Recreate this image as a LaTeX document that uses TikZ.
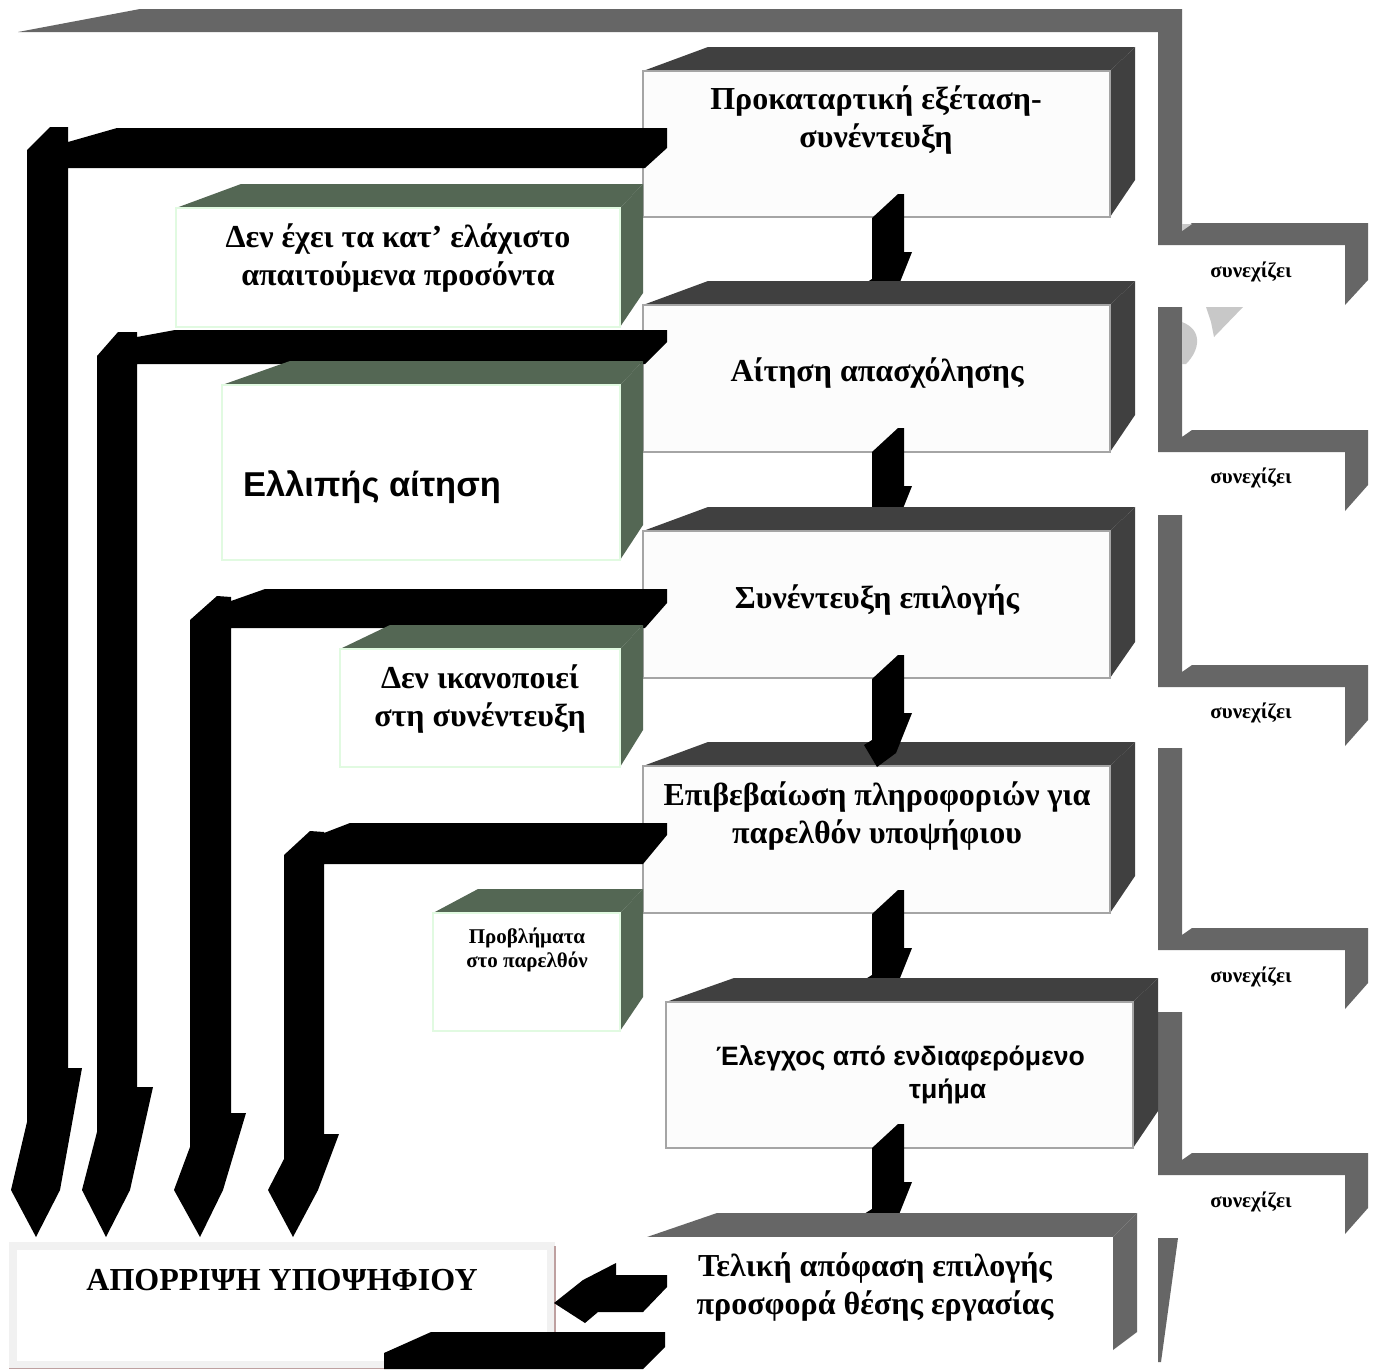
\documentclass[tikz,border=0pt]{standalone}
\usepackage{fontspec}
\setmainfont{Liberation Serif}
\newfontfamily\sansf{Liberation Sans}
\definecolor{dface}{RGB}{64,64,64}
\definecolor{gface}{RGB}{84,103,84}
\definecolor{band}{RGB}{102,102,102}
\definecolor{fborder}{RGB}{165,165,165}
\definecolor{ffill}{RGB}{252,252,252}
\definecolor{gborder}{RGB}{225,250,225}
\definecolor{wm}{RGB}{200,200,200}
\definecolor{rborder}{RGB}{190,160,160}
\definecolor{rframe}{RGB}{241,241,241}
\newcommand\tdbox[9]{%
  \fill[#8] (#1,#2) -- (#1+#5,#2-24) -- (#3+#6,#2-24) -- (#3,#2) -- cycle;
  \fill[#8] (#3,#2) -- (#3+#6,#2-24) -- (#3+#6,#4-#7) -- (#3,#4) -- cycle;
  \path[#9] (#1,#2) rectangle (#3,#4);
}
\newcommand\downarrowthree[1]{%
  \fill[black] (872,#1+24) -- (898,#1) -- (904,#1) -- (904,#1+58) -- (912,#1+58)
    -- (896,#1+98) -- (877,#1+112) -- (864,#1+90) -- (872,#1+85) -- cycle;
}
\newcommand\grayL[2]{%
  \fill[band] (1158,#1) -- (1182,#1) -- (1182,#2+7) -- (1192,#2) -- (1368,#2)
    -- (1368,#2+55) -- (1345,#2+81) -- (1345,#2+22) -- (1158,#2+22) -- cycle;
}
\begin{document}
\begin{tikzpicture}[x=1pt,y=-1pt,
  mfront/.style={fill=ffill,draw=fborder,line width=1.5pt},
  gfront/.style={fill=white,draw=gborder,line width=1.5pt},
  wfront/.style={fill=white},
  mtext/.style={font=\bfseries\fontsize{32}{38}\selectfont,align=center,inner sep=0pt},
  stext/.style={font=\sansf\bfseries\fontsize{26.6}{33}\selectfont,align=left,inner sep=0pt},
  ctext/.style={font=\bfseries\fontsize{21}{24}\selectfont,inner sep=0pt},
  ptext/.style={font=\bfseries\fontsize{21}{24}\selectfont,align=center,inner sep=0pt}]
\useasboundingbox (0,0) rectangle (1378,1369);
\fill[white] (0,0) rectangle (1378,1369);

% right-hand grey "continues" bands
\fill[band] (18,32) -- (140,9) -- (1182,9) -- (1182,230) -- (1192,223) -- (1368,223)
  -- (1368,280) -- (1345,305) -- (1345,245) -- (1158,245) -- (1158,32) -- cycle;
\fill[wm] (1182,231) -- (1192,224) -- (1182,224) -- cycle;
\grayL{307}{430}
\grayL{515}{665}
\grayL{748}{928}
\grayL{1012}{1153}
\fill[band] (1158,1238) -- (1178,1238) -- (1161,1362) -- (1158,1362) -- cycle;
\fill[wm] (1206,307) -- (1243,307) -- (1214,337) -- (1211,322) -- cycle;
\fill[wm] (1182,322) .. controls (1203,330) and (1200,350) .. (1186,364) -- (1182,364) -- cycle;

% main process boxes with the arrows between them
\tdbox{643}{71}{1110}{217}{65}{25}{37}{dface}{mfront}
\downarrowthree{194}
\tdbox{643}{305}{1110}{452}{65}{25}{37}{dface}{mfront}
\downarrowthree{428}
\tdbox{643}{531}{1110}{678}{65}{25}{36}{dface}{mfront}
\tdbox{643}{766}{1110}{913}{65}{25}{37}{dface}{mfront}
\downarrowthree{655}
\downarrowthree{890}
\tdbox{666}{1002}{1133}{1148}{68}{25}{37}{dface}{mfront}
\downarrowthree{1124}
\tdbox{647}{1237}{1113}{1350}{70}{24}{18}{band}{wfront}

% rejection paths and reason boxes
\fill[black] (27,150) -- (50,127) -- (68,127) -- (68,142) -- (117,128) -- (667,128)
  -- (667,148) -- (645,168) -- (68,168) -- (68,1068) -- (82,1068) -- (60,1190)
  -- (36,1237) -- (11,1190) -- (27,1122) -- cycle;
\tdbox{176}{208}{620}{327}{65}{23}{34}{gface}{gfront}
\fill[black] (97,356) -- (118,332) -- (137,332) -- (137,337) -- (175,330) -- (667,330)
  -- (667,342) -- (645,364) -- (137,364) -- (137,1087) -- (153,1087) -- (130,1190)
  -- (106,1237) -- (82,1190) -- (97,1132) -- cycle;
\tdbox{222}{385}{620}{560}{68}{23}{35}{gface}{gfront}
\fill[black] (190,620) -- (217,596) -- (231,597) -- (231,601) -- (265,589) -- (667,589)
  -- (667,603) -- (645,628) -- (231,628) -- (231,1113) -- (246,1113) -- (223,1190)
  -- (200,1237) -- (174,1190) -- (190,1147) -- cycle;
\tdbox{340}{649}{620}{767}{50}{23}{37}{gface}{gfront}
\fill[black] (284,855) -- (310,831) -- (324,832) -- (324,833) -- (350,823) -- (667,823)
  -- (667,835) -- (643,864) -- (324,864) -- (324,1134) -- (339,1134) -- (318,1190)
  -- (293,1237) -- (268,1190) -- (284,1159) -- cycle;
\tdbox{433}{913}{620}{1031}{45}{23}{34}{gface}{gfront}

% rejection box
\fill[rframe] (9,1242) rectangle (555,1369);
\fill[white] (17,1250) rectangle (547,1361);
\draw[rborder,line width=1.5pt] (555,1246) -- (555,1369);
\draw[rborder,line width=1pt] (9,1368.5) -- (555,1368.5);
\fill[black] (554,1303) -- (583,1280) -- (616,1263) -- (616,1275) -- (667,1275)
  -- (667,1287) -- (643,1312) -- (598,1312) -- (585,1323) -- cycle;
\fill[black] (384,1353) -- (431,1332) -- (665,1332) -- (665,1347) -- (643,1369)
  -- (384,1369) -- cycle;

% texts
\node[mtext] (t1) at (876,120) {Προκαταρτική εξέταση-\\συνέντευξη};
\node[mtext] (t2) at (877,373) {Αίτηση απασχόλησης};
\node[mtext] (t3) at (877,600) {Συνέντευξη επιλογής};
\node[mtext] (t4) at (877,816) {Επιβεβαίωση πληροφοριών για\\παρελθόν υποψήφιου};
\node[stext,anchor=west] (t5) at (716,1075) {Έλεγχος από ενδιαφερόμενο\\\hspace*{193pt}τμήμα};
\node[mtext] (t6) at (875,1287) {Τελική απόφαση επιλογής\\προσφορά θέσης εργασίας};
\node[mtext] (g1) at (398,258) {Δεν έχει τα κατ’ ελάχιστο\\απαιτούμενα προσόντα};
\node[font=\sansf\bfseries\fontsize{34.5}{40}\selectfont,inner sep=0pt] (g2) at (372,487) {Ελλιπής αίτηση};
\node[mtext] (g3) at (480,699) {Δεν ικανοποιεί\\στη συνέντευξη};
\node[ptext] (g4) at (527,950) {Προβλήματα\\στο παρελθόν};
\node[ctext] (c1) at (1251,272) {συνεχίζει};
\node[ctext] (c2) at (1251,478) {συνεχίζει};
\node[ctext] (c3) at (1251,713) {συνεχίζει};
\node[ctext] (c4) at (1251,977) {συνεχίζει};
\node[ctext] (c5) at (1251,1202) {συνεχίζει};
\node[mtext] (rej) at (282,1280) {ΑΠΟΡΡΙΨΗ ΥΠΟΨΗΦΙΟΥ};
\end{tikzpicture}
\end{document}
